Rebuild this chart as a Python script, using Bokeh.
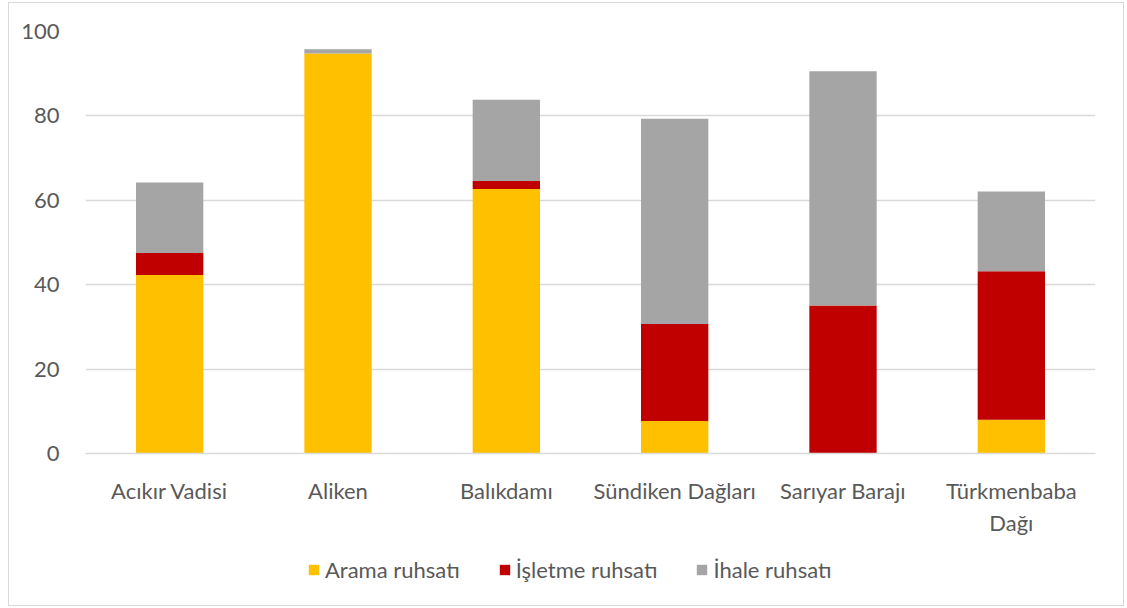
from bokeh.plotting import figure
from bokeh.layouts import column
from bokeh.models import Legend, LegendItem, FixedTicker
from bokeh.embed import file_html
from bokeh.resources import INLINE

categories = ["Acıkır Vadisi", "Aliken", "Balıkdamı", "Sündiken Dağları", "Sarıyar Barajı", "Türkmenbaba\nDağı"]
series = ["Arama ruhsatı", "İşletme ruhsatı", "İhale ruhsatı"]
arama = [42.3, 94.8, 62.7, 7.7, 0.0, 8.0]
isletme = [5.2, 0.0, 1.9, 23.0, 35.1, 35.2]
ihale = [16.7, 1.0, 19.2, 48.6, 55.5, 18.9]
y_ticks = [0, 20, 40, 60, 80, 100]
colors = ["#FFC000", "#C00000", "#A5A5A5"]

FONT = "Lato"
TXT = "#595959"

data = {"cat": categories, "a": arama, "i": isletme, "h": ihale}

p = figure(x_range=categories, y_range=(0, 100), width=1114, height=535,
           output_backend="svg", toolbar_location=None,
           min_border_left=76, min_border_right=28, min_border_top=28, min_border_bottom=80)

p.vbar_stack(["a", "i", "h"], x="cat", width=0.4, color=colors, source=data, line_width=0)

p.outline_line_color = None
p.xgrid.grid_line_color = None
p.ygrid.grid_line_color = "#D9D9D9"
p.ygrid.grid_line_width = 1.5
p.yaxis.ticker = FixedTicker(ticks=y_ticks)
p.yaxis.axis_line_color = None
p.xaxis.axis_line_color = "#D9D9D9"
p.xaxis.axis_line_width = 1.5
for ax in (p.xaxis[0], p.yaxis[0]):
    ax.major_tick_line_color = None
    ax.minor_tick_line_color = None
    ax.major_label_text_font = FONT
    ax.major_label_text_font_size = "22px"
    ax.major_label_text_color = TXT
p.yaxis.major_label_standoff = 20
p.xaxis.major_label_standoff = 17

# legend strip (dummy renderers have zero height, so nothing is drawn)
lp = figure(width=1114, height=67, output_backend="svg", toolbar_location=None,
            x_range=(0, 1), y_range=(0, 1), min_border=0)
lp.axis.visible = False
lp.grid.visible = False
lp.outline_line_color = None
dummies = [lp.vbar(x=[0.5], top=[0], bottom=[0], width=0.1, color=c, line_width=0) for c in colors]
legend = Legend(items=[LegendItem(label=s, renderers=[r]) for s, r in zip(series, dummies)],
                orientation="horizontal", location=(222, 22),
                glyph_width=13, glyph_height=13, label_standoff=5, spacing=38,
                padding=0, margin=0, border_line_color=None, background_fill_alpha=0,
                label_text_font=FONT, label_text_font_size="22px", label_text_color=TXT)
lp.add_layout(legend, "center")

layout = column(p, lp, spacing=0)
layout.styles = {"border": "1px solid #D9D9D9", "margin-left": "8px", "margin-top": "2px"}

open("out.html", "w").write(file_html(layout, INLINE))
